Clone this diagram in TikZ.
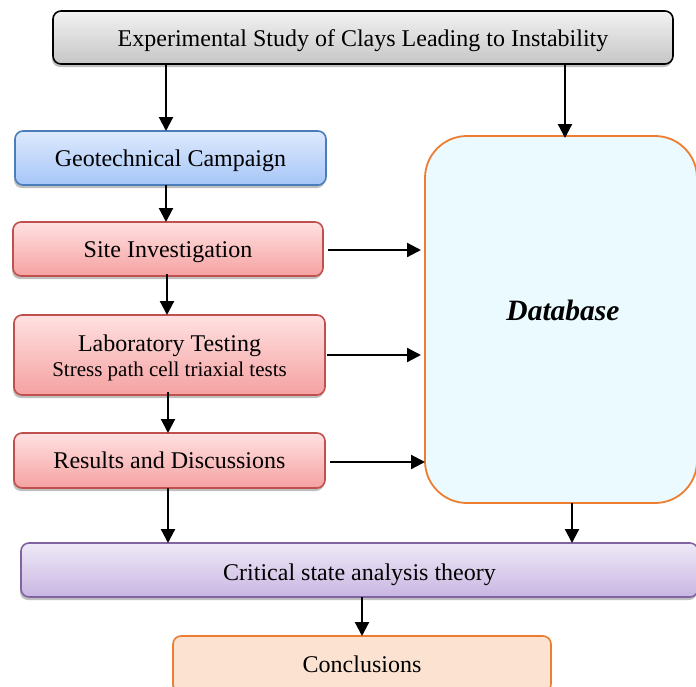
\documentclass[tikz,border=0pt]{standalone}
\usepackage{fontspec}
\setmainfont{Liberation Serif}
\usetikzlibrary{arrows.meta,shadows,positioning}
\definecolor{grayT}{HTML}{F2F2F2}
\definecolor{grayB}{HTML}{C6C6C6}
\definecolor{blueT}{HTML}{DDE9FD}
\definecolor{blueB}{HTML}{A6C6F7}
\definecolor{blueD}{HTML}{4A7EBB}
\definecolor{redT}{HTML}{FFE1E1}
\definecolor{redB}{HTML}{F5A1A1}
\definecolor{redD}{HTML}{C0504D}
\definecolor{purT}{HTML}{EEEAF7}
\definecolor{purB}{HTML}{C9B5E2}
\definecolor{purD}{HTML}{8064A2}
\definecolor{orgD}{HTML}{ED7D31}
\definecolor{dbF}{HTML}{EBFAFE}
\definecolor{conF}{HTML}{FBE2D1}
\tikzset{
  box/.style={rectangle, rounded corners=8pt, line width=1.6pt, inner sep=0pt, outer sep=0pt,
    align=center, font=\fontsize{24}{28}\selectfont,
    drop shadow={shadow xshift=-1pt, shadow yshift=-3pt, opacity=0.25, fill=black}},
  oneline/.style={text height=17pt, text depth=1pt},
  graybox/.style={box, oneline, draw=black, top color=grayT, bottom color=grayB},
  bluebox/.style={box, oneline, draw=blueD, top color=blueT, bottom color=blueB},
  redbox/.style={box, draw=redD, top color=redT, bottom color=redB},
  purbox/.style={box, oneline, draw=purD, top color=purT, bottom color=purB},
  arr/.style={line width=2.2pt, -{Triangle[length=14pt,width=14pt]}}
}
\begin{document}
\begin{tikzpicture}[x=1pt,y=-1pt]
\useasboundingbox (0,0) rectangle (696,686);
\node[graybox, text height=18pt, minimum width=620pt, minimum height=53pt] (top) at (363,37.5) {Experimental Study of Clays Leading to Instability};
\node[bluebox, minimum width=311pt, minimum height=54pt] (geo) at (170.5,158) {Geotechnical Campaign};
\node[redbox, oneline, minimum width=310pt, minimum height=54pt] (site) at (168,249) {Site Investigation};
\node[redbox, minimum width=311pt, minimum height=80pt] (lab) at (169.5,355) {\rule{0pt}{23pt}Laboratory Testing\\[-3pt]{\fontsize{21}{24}\selectfont Stress path cell triaxial tests}};
\node[redbox, oneline, minimum width=311pt, minimum height=55pt] (res) at (169.5,460.5) {Results and Discussions};
\node[rectangle, rounded corners=42pt, line width=1.8pt, draw=orgD, fill=dbF, minimum width=272pt, minimum height=367pt, inner sep=0pt, outer sep=0pt] (db) at (561,319.5) {};
\node[font=\fontsize{29.5}{34}\selectfont\bfseries\itshape] (dbt) at (563,310) {Database};
\node[purbox, text height=21pt, minimum width=677pt, minimum height=54pt] (crit) at (359.5,570) {Critical state analysis theory};
\node[box, oneline, draw=orgD, fill=conF, drop shadow={opacity=0}, minimum width=378pt, minimum height=56pt] (con) at (362,664) {Conclusions};
% arrows
\draw[arr] ([xshift=-4.5pt]geo.north |- top.south) -- ([xshift=-4.5pt]geo.north);
\draw[arr] ([xshift=4pt]db.north |- top.south) -- ([xshift=4pt,yshift=-2pt]db.north);
\draw[arr] ([xshift=-4.5pt]geo.south) -- ([xshift=-2pt]site.north);
\draw[arr] ([xshift=-1pt,yshift=2pt]site.south) -- ([xshift=-2.5pt]lab.north);
\draw[arr] ([xshift=-1.5pt,yshift=3pt]lab.south) -- ([xshift=-1.5pt]res.north);
\draw[arr] ([xshift=-1.5pt]res.south) -- ([xshift=-1.5pt]res.south |- crit.north);
\draw[arr] ([xshift=11pt]db.south) -- ([xshift=11pt]db.south |- crit.north);
\draw[arr] (con.north |- crit.south) -- (con.north);
\draw[arr, shorten <=5pt, shorten >=4pt] ([yshift=-1pt]site.east) -- ([yshift=-1pt]site.east -| db.west);
\draw[arr, shorten <=2pt, shorten >=4pt] (lab.east) -- (lab.east -| db.west);
\draw[arr, shorten <=5pt] ([yshift=-1.5pt]res.east) -- ([yshift=-1.5pt]res.east -| db.west);
\end{tikzpicture}
\end{document}
